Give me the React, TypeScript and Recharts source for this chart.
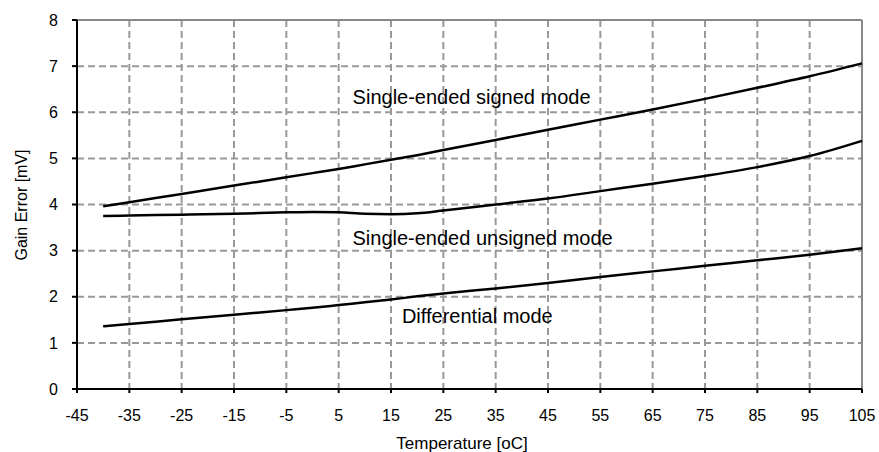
import React from 'react'
import { LineChart, Line, XAxis, YAxis, CartesianGrid, ReferenceLine, ReferenceDot, Label } from 'recharts'

const temps = [-40, -35, -25, -15, -5, 0, 5, 10, 15, 20, 25, 35, 45, 55, 65, 75, 85, 95, 105]
const signedMode = [3.96, 4.05, 4.23, 4.41, 4.59, 4.68, 4.77, 4.87, 4.97, 5.07, 5.18, 5.4, 5.62, 5.84, 6.06, 6.29, 6.53, 6.78, 7.06]
const unsignedMode = [3.75, 3.76, 3.78, 3.8, 3.83, 3.84, 3.83, 3.8, 3.79, 3.81, 3.87, 4.0, 4.13, 4.29, 4.45, 4.62, 4.81, 5.05, 5.38]
const differentialMode = [1.36, 1.41, 1.51, 1.61, 1.71, 1.76, 1.82, 1.88, 1.94, 2.01, 2.07, 2.18, 2.3, 2.43, 2.55, 2.67, 2.79, 2.91, 3.05]

const xTicks = [-45, -35, -25, -15, -5, 5, 15, 25, 35, 45, 55, 65, 75, 85, 95, 105]
const yTicks = [0, 1, 2, 3, 4, 5, 6, 7, 8]

const noteText = ['Single-ended signed mode', 'Single-ended unsigned mode', 'Differential mode']
const noteX = [30.4, 32.5, 31.5]
const noteY = [6.18, 3.12, 1.43]

const data = temps.map((t, i) => ({
  t,
  signed: signedMode[i],
  unsigned: unsignedMode[i],
  diff: differentialMode[i],
}))

const FONT = '"Liberation Sans", Arial, sans-serif'

export default function App() {
  return (
    <div style={{ position: 'absolute', left: 0, top: 0, background: '#fff' }}>
      <LineChart width={879} height={452} data={data} margin={{ top: 20, right: 17, bottom: 0, left: 0 }}>
        <CartesianGrid stroke="#999" strokeWidth={2} strokeDasharray="7 4" />
        <ReferenceLine y={8} stroke="#888" strokeWidth={2} />
        <ReferenceLine x={105} stroke="#888" strokeWidth={2} />
        <XAxis
          dataKey="t"
          type="number"
          domain={[-45, 105]}
          ticks={xTicks}
          height={63}
          axisLine={{ stroke: '#000', strokeWidth: 2 }}
          tickLine={{ stroke: '#000', strokeWidth: 2 }}
          tickSize={4}
          tickMargin={17}
          tick={{ fill: '#000', fontSize: 16, fontFamily: FONT }}
        >
          <Label
            content={() => (
              <text x={462} y={449} textAnchor="middle" fill="#000" fontSize={17} fontFamily={FONT}>
                Temperature [oC]
              </text>
            )}
          />
        </XAxis>
        <YAxis
          type="number"
          domain={[0, 8]}
          ticks={yTicks}
          width={77}
          axisLine={{ stroke: '#000', strokeWidth: 2 }}
          tickLine={{ stroke: '#000', strokeWidth: 2 }}
          tickSize={5}
          tickMargin={14}
          tick={{ fill: '#000', fontSize: 16, fontFamily: FONT }}
        >
          <Label
            content={() => (
              <text
                x={27}
                y={205}
                transform="rotate(-90, 27, 205)"
                textAnchor="middle"
                fill="#000"
                fontSize={16}
                fontFamily={FONT}
              >
                Gain Error [mV]
              </text>
            )}
          />
        </YAxis>
        <Line type="monotone" dataKey="signed" stroke="#000" strokeWidth={2.5} dot={false} isAnimationActive={false} />
        <Line type="monotone" dataKey="unsigned" stroke="#000" strokeWidth={2.5} dot={false} isAnimationActive={false} />
        <Line type="monotone" dataKey="diff" stroke="#000" strokeWidth={2.5} dot={false} isAnimationActive={false} />
        {noteText.map((txt, i) => (
          <ReferenceDot key={txt} x={noteX[i]} y={noteY[i]} r={0} fill="none" stroke="none">
            <Label
              content={(props: any) => (
                <text
                  x={props.viewBox.x}
                  y={props.viewBox.y}
                  textAnchor="middle"
                  fill="#000"
                  fontSize={20}
                  fontFamily={FONT}
                >
                  {txt}
                </text>
              )}
            />
          </ReferenceDot>
        ))}
      </LineChart>
    </div>
  )
}
